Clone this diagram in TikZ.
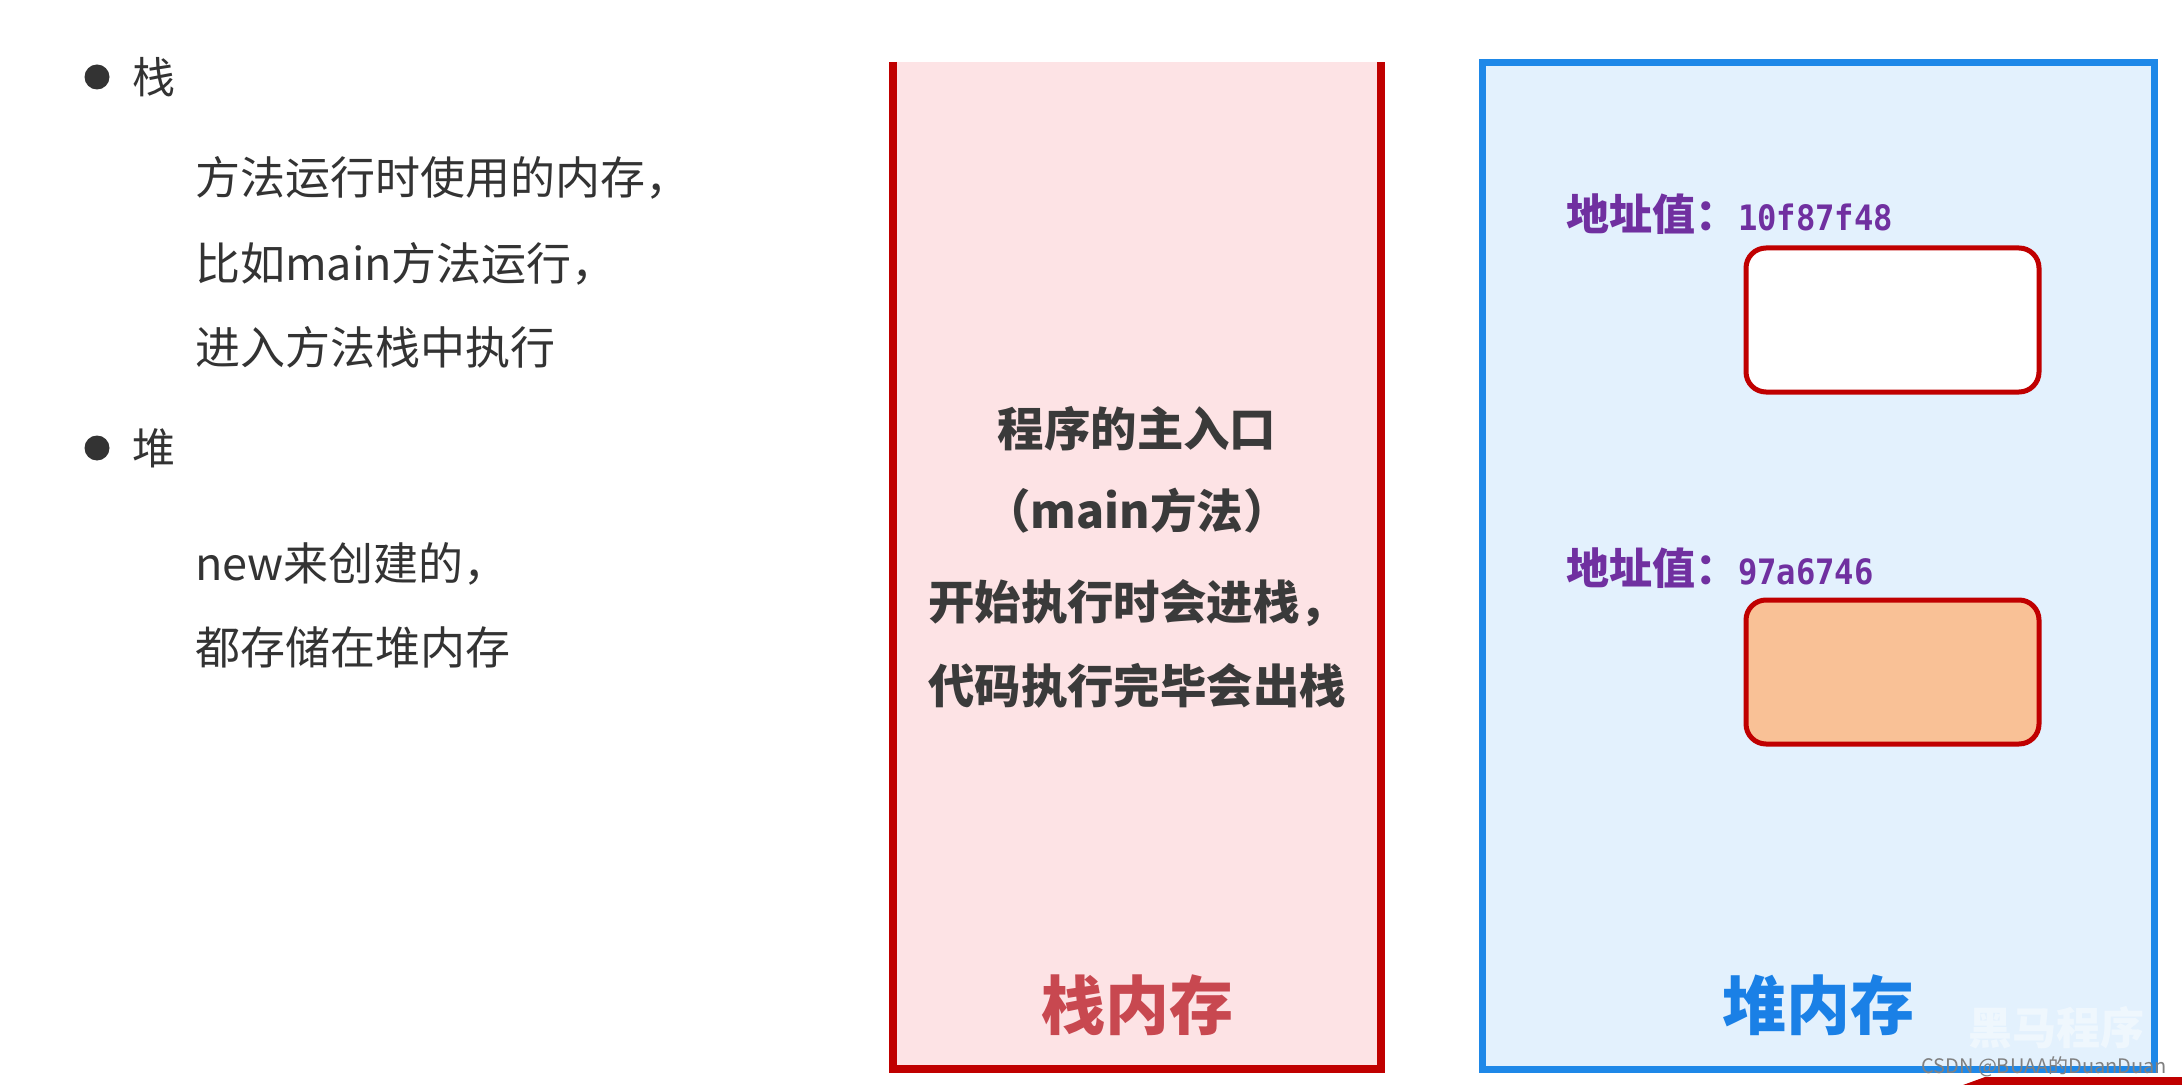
\documentclass[tikz,border=0pt]{standalone}
\usepackage{fontspec}
\setmainfont{Noto Sans CJK SC}
\newfontfamily\monob[FakeStretch=0.92]{DejaVu Sans Mono}
\definecolor{txtgray}{HTML}{333333}
\definecolor{stackred}{HTML}{C00000}
\definecolor{stackfill}{HTML}{FDE3E5}
\definecolor{stacklabel}{HTML}{C84850}
\definecolor{heapblue}{HTML}{1E88E8}
\definecolor{heapfill}{HTML}{E3F1FD}
\definecolor{heaplabel}{HTML}{1A80E6}
\definecolor{addrpurple}{HTML}{7030A0}
\definecolor{boxpeach}{HTML}{F9C196}
\definecolor{darktext}{HTML}{3A3A3A}
\begin{document}
\begin{tikzpicture}[x=0.5pt,y=-0.5pt,
  every node/.style={inner sep=0pt, outer sep=0pt},
  bodytext/.style={anchor=west, font=\fontsize{22.5}{27}\selectfont, text=txtgray},
  headtext/.style={anchor=west, font=\fontsize{21.5}{26}\selectfont, text=txtgray},
  bulletdot/.style={circle, fill=txtgray, minimum size=12.5pt},
  stacktext/.style={font=\fontsize{23.2}{28}\selectfont\bfseries, text=darktext},
  biglabel/.style={font=\fontsize{32}{36}\selectfont\bfseries},
  addrtext/.style={anchor=west, text=addrpurple, font=\fontsize{21.5}{26}\selectfont\bfseries},
  membox/.style={draw=stackred, line width=2.5pt, rounded corners=10pt,
     minimum width=146.5pt, minimum height=72pt}
]
\useasboundingbox (0,0) rectangle (2182,1085);
\fill[white] (0,0) rectangle (2182,1085);

% left description
\node[bulletdot] (b1) at (97,77) {};
\node[headtext] (t1) at (132,77) {栈};
\node[bodytext] (l1) at (195,178) {方法运行时使用的内存，};
\node[bodytext] (l2) at (195,264) {比如main方法运行，};
\node[bodytext] (l3) at (195,347) {进入方法栈中执行};
\node[bulletdot] (b2) at (97,448) {};
\node[headtext] (t2) at (132,448) {堆};
\node[bodytext] (l4) at (195,564) {new来创建的，};
\node[bodytext] (l5) at (195,647) {都存储在堆内存};

% stack memory
\fill[stackfill] (893,62) rectangle (1381,1069);
\draw[stackred, line width=4pt, line join=miter] (893,62) -- (893,1069) -- (1381,1069) -- (1381,62);
\node[stacktext] (s1) at (1137,429) {程序的主入口};
\node[stacktext] (s2) at (1137,511) {（main方法）};
\node[stacktext] (s3) at (1137,603) {开始执行时会进栈，};
\node[stacktext] (s4) at (1137,686) {代码执行完毕会出栈};
\node[biglabel, text=stacklabel] (sl) at (1137,1005) {栈内存};

% heap memory
\node[draw=heapblue, fill=heapfill, line width=3.5pt, minimum width=336pt, minimum height=503pt] (heap) at (1818,566) {};
\node[addrtext] (a1) at (1566,214) {地址值：{\monob\fontsize{17.5}{20}\selectfont 10f87f48}};
\node[membox, fill=white] (o1) at (1892.5,320) {};
\node[addrtext] (a2) at (1566,568) {地址值：{\monob\fontsize{17.5}{20}\selectfont 97a6746}};
\node[membox, fill=boxpeach] (o2) at (1892.5,672) {};
\node[biglabel, text=heaplabel] (hl) at (1818,1005) {堆内存};

% watermarks
\node[text=white, opacity=0.45, font=\fontsize{22}{26}\selectfont\bfseries, anchor=west] (wm) at (1968,1028) {黑马程序};
\fill[stackred] (1985,1077) -- (2182,1077) -- (2182,1085) -- (1963,1085) -- cycle;
\node[text=gray, font=\fontsize{10}{12}\selectfont, anchor=east] (csdn) at (2167,1067) {CSDN @BUAA的DuanDuan};
\end{tikzpicture}
\end{document}
